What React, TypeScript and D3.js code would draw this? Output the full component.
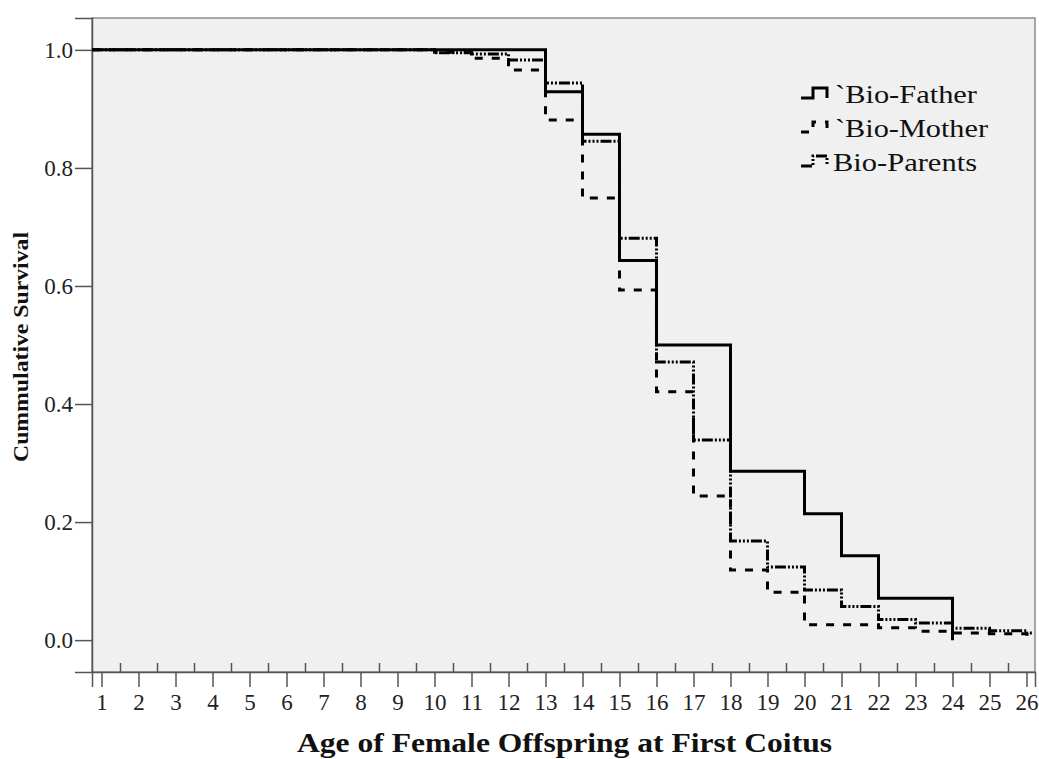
import React, { useRef, useEffect } from "react";
import * as d3 from "d3";

// ages at which the curves step, and the survival held from that age on
const ages = [10, 11, 12, 13, 14, 15, 16, 17, 18, 19, 20, 21, 22, 23, 24, 25, 26];
const fatherSurvival = [1, 1, 1, 0.929, 0.857, 0.643, 0.5, 0.5, 0.286, 0.286, 0.214, 0.143, 0.071, 0.071, 0, null, null];
const motherSurvival = [0.996, 0.986, 0.966, 0.881, 0.749, 0.593, 0.421, 0.244, 0.119, 0.081, 0.026, 0.026, 0.021, 0.015, 0.012, 0.011, 0.01];
const parentsSurvival = [0.995, 0.993, 0.983, 0.944, 0.845, 0.681, 0.471, 0.339, 0.168, 0.124, 0.085, 0.057, 0.035, 0.029, 0.02, 0.016, 0.012];

const xTicks = d3.range(1, 27);
const xMinorTicks = d3.range(1.5, 26, 1);
const yTicks = [0, 0.2, 0.4, 0.6, 0.8, 1.0];

const seriesNames = ["`Bio-Father", "`Bio-Mother", "Bio-Parents"];

function SurvivalChart() {
  const svgRef = useRef<SVGSVGElement>(null);

  useEffect(() => {
    const svg = d3.select(svgRef.current);
    svg.selectAll("*").remove();

    const left = 92, right = 1035, top = 18, bottom = 672;
    const x = d3.scaleLinear().domain([0.743, 26.23]).range([left, right]);
    const y = d3.scaleLinear().domain([-0.054, 1.054]).range([bottom, top]);

    svg.append("rect")
      .attr("x", left).attr("y", top)
      .attr("width", right - left).attr("height", bottom - top)
      .attr("fill", "#f0f0f0")
      .attr("stroke", "#8a8a8a")
      .attr("stroke-width", 1.5);

    // axes
    const yAxis = svg.append("g")
      .attr("transform", `translate(${left},0)`)
      .call(d3.axisLeft(y).tickValues(yTicks).tickSize(17).tickPadding(2).tickFormat(d3.format(".1f")));
    const xAxis = svg.append("g")
      .attr("transform", `translate(0,${bottom})`)
      .call(d3.axisBottom(x).tickValues(xTicks).tickSize(15).tickPadding(7).tickFormat(d3.format("d")));
    const xMinor = svg.append("g")
      .attr("transform", `translate(0,${bottom})`)
      .call(d3.axisBottom(x).tickValues(xMinorTicks).tickSize(-9).tickFormat(() => ""));

    [yAxis, xAxis, xMinor].forEach(g => {
      g.selectAll(".domain").attr("stroke", "#555").attr("stroke-width", 1.5);
      g.selectAll(".tick line").attr("stroke", "#555").attr("stroke-width", 1.5);
      g.selectAll("text")
        .attr("fill", "#222")
        .attr("font-family", "'Liberation Serif', 'Times New Roman', serif")
        .attr("font-size", 23);
    });
    xMinor.select(".domain").remove();

    // survival curves
    const line = d3.line<[number, number]>()
      .x(d => x(d[0]))
      .y(d => y(d[1]))
      .curve(d3.curveStepAfter);

    const build = (vals: (number | null)[]) => {
      const pts: [number, number][] = [[x.domain()[0], 1]];
      let ended = false;
      vals.forEach((v, i) => {
        if (v === null) { ended = true; return; }
        pts.push([ages[i], v]);
      });
      if (!ended) pts.push([26.2, pts[pts.length - 1][1]]);
      return pts;
    };

    const styles = [
      { vals: fatherSurvival, dash: null },
      { vals: motherSurvival, dash: "8,9" },
      { vals: parentsSurvival, dash: "11,2,2,2,2,2,2,2" },
    ];

    [2, 1, 0].forEach(i => {
      const s = styles[i];
      svg.append("path")
        .attr("d", line(build(s.vals)))
        .attr("fill", "none")
        .attr("stroke", "#000")
        .attr("stroke-width", 3)
        .attr("stroke-dasharray", s.dash);
    });

    // legend
    const legendY = [98, 132, 166];
    const legendLen = [142, 153, 144];
    const legendX = [835, 835, 833];
    seriesNames.forEach((name, i) => {
      const ly = legendY[i];
      svg.append("path")
        .attr("d", `M801,${ly} H813 V${ly - 10} H827 V${ly}`)
        .attr("fill", "none")
        .attr("stroke", "#000")
        .attr("stroke-width", 3)
        .attr("stroke-dasharray", styles[i].dash);
      svg.append("text")
        .attr("x", legendX[i]).attr("y", ly + 5)
        .attr("font-family", "'Liberation Serif', 'Times New Roman', serif")
        .attr("font-size", 25)
        .attr("textLength", legendLen[i])
        .attr("lengthAdjust", "spacingAndGlyphs")
        .attr("fill", "#111")
        .text(name);
    });

    // axis titles
    svg.append("text")
      .attr("x", 297).attr("y", 752)
      .attr("font-family", "'Liberation Serif', 'Times New Roman', serif")
      .attr("font-weight", "bold")
      .attr("font-size", 27)
      .attr("textLength", 535)
      .attr("lengthAdjust", "spacingAndGlyphs")
      .attr("fill", "#111")
      .text("Age of Female Offspring at First Coitus");

    svg.append("text")
      .attr("transform", "translate(28,462) rotate(-90)")
      .attr("font-family", "'Liberation Serif', 'Times New Roman', serif")
      .attr("font-weight", "bold")
      .attr("font-size", 21)
      .attr("textLength", 230)
      .attr("lengthAdjust", "spacingAndGlyphs")
      .attr("fill", "#111")
      .text("Cummulative  Survival");
  }, []);

  return <svg ref={svgRef} width={1039} height={759} style={{ display: "block" }}></svg>;
}

export default function App() {
  return (
    <div style={{ position: "absolute", left: 0, top: 0, width: 1039, height: 759, background: "#fff" }}>
      <SurvivalChart />
    </div>
  );
}
